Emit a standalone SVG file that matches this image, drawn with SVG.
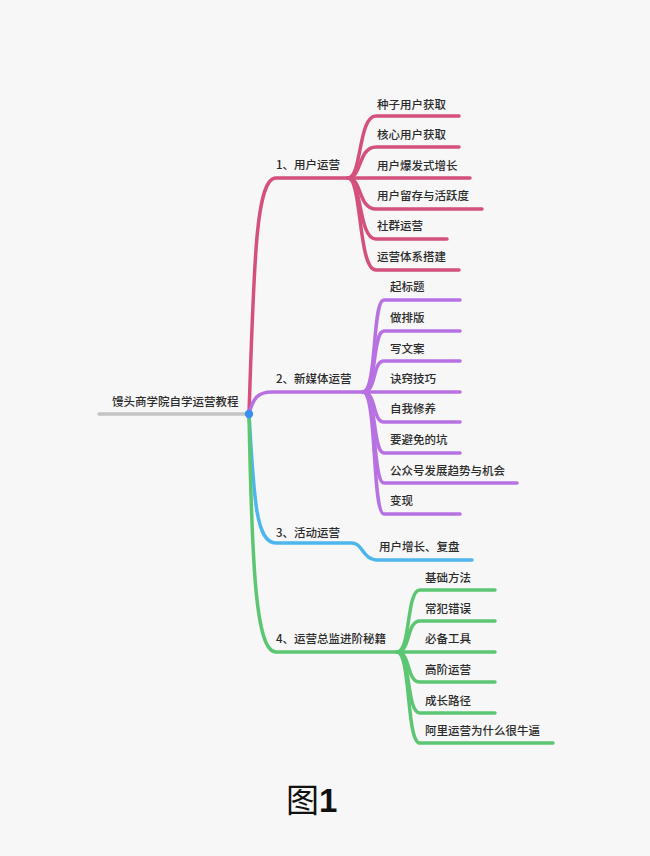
<svg xmlns="http://www.w3.org/2000/svg" width="650" height="856" viewBox="0 0 650 856">
<style>
.bg{fill:#f7f7f7}
.l{fill:none;stroke-width:3.5;stroke-linecap:round;stroke-linejoin:round}
.p{stroke:#d4507e}
.v{stroke:#b871e3}
.b{stroke:#4db6ec}
.g{stroke:#5cc673}
.r{stroke:#c4c4c4}
text{font-family:"Noto Sans CJK SC","Noto Sans",sans-serif;font-size:11.5px;font-weight:500;fill:#2a2a2a}
</style>
<rect class="bg" width="650" height="856"/>
<g id="connectors">
<path class="l r" d="M99,414 L249,414"/>
<path class="l p" d="M249,414 C254,260 256,178 276,178 L348,178"/>
<path class="l v" d="M249,414 C253,398 258,392 272,392 L363,392"/>
<path class="l b" d="M249,414 C254,500 256,543 276,543 L352,543 C363,543 362,560 378,560 L472,560"/>
<path class="l g" d="M249,414 C252,570 256,652 276,652 L397,652"/>
<g class="l p">
<path d="M348,178 C362,178 358,116 376,116 L459,116"/>
<path d="M348,178 C362,178 358,147 376,147 L459,147"/>
<path d="M348,178 L470,178"/>
<path d="M348,178 C362,178 358,209 376,209 L482,209"/>
<path d="M348,178 C362,178 358,239 376,239 L447,239"/>
<path d="M348,178 C362,178 358,270 376,270 L459,270"/>
</g>
<g class="l v">
<path d="M363,392 C377,392 372,300 384,300 L460,300"/>
<path d="M363,392 C377,392 372,331 384,331 L460,331"/>
<path d="M363,392 C377,392 372,361 384,361 L460,361"/>
<path d="M363,392 L460,392"/>
<path d="M363,392 C377,392 372,422 384,422 L460,422"/>
<path d="M363,392 C377,392 372,453 384,453 L460,453"/>
<path d="M363,392 C377,392 372,483 384,483 L517,483"/>
<path d="M363,392 C377,392 372,514 384,514 L460,514"/>
</g>
<g class="l g">
<path d="M397,652 C411,652 406,590 420,590 L495,590"/>
<path d="M397,652 C411,652 406,621 420,621 L495,621"/>
<path d="M397,652 L495,652"/>
<path d="M397,652 C411,652 406,682 420,682 L495,682"/>
<path d="M397,652 C411,652 406,713 420,713 L495,713"/>
<path d="M397,652 C411,652 406,743 420,743 L553,743"/>
</g>
</g>
<g id="root">
<text x="112" y="406">馒头商学院自学运营教程</text>
<circle cx="249" cy="414" r="4.2" fill="#3a8ef0"/>
</g>
<g id="b1">
<text x="276" y="169">1、用户运营</text>
<text x="377" y="109">种子用户获取</text>
<text x="377" y="139">核心用户获取</text>
<text x="377" y="170">用户爆发式增长</text>
<text x="377" y="200">用户留存与活跃度</text>
<text x="377" y="230">社群运营</text>
<text x="377" y="261">运营体系搭建</text>
</g>
<g id="b2">
<text x="276" y="383">2、新媒体运营</text>
<text x="390" y="291">起标题</text>
<text x="390" y="322">做排版</text>
<text x="390" y="353">写文案</text>
<text x="390" y="383">诀窍技巧</text>
<text x="390" y="413">自我修养</text>
<text x="390" y="444">要避免的坑</text>
<text x="390" y="475">公众号发展趋势与机会</text>
<text x="390" y="505">变现</text>
</g>
<g id="b3">
<text x="276" y="537">3、活动运营</text>
<text x="379" y="551">用户增长、复盘</text>
</g>
<g id="b4">
<text x="276" y="643">4、运营总监进阶秘籍</text>
<text x="425" y="582">基础方法</text>
<text x="425" y="613">常犯错误</text>
<text x="425" y="643">必备工具</text>
<text x="425" y="674">高阶运营</text>
<text x="425" y="705">成长路径</text>
<text x="425" y="735">阿里运营为什么很牛逼</text>
</g>
<g id="caption">
<text x="286" y="812" style="font-size:33px;font-weight:normal;fill:#111"><tspan>图</tspan><tspan style="font-family:'Liberation Sans',sans-serif;font-weight:bold">1</tspan></text>
</g>
</svg>
